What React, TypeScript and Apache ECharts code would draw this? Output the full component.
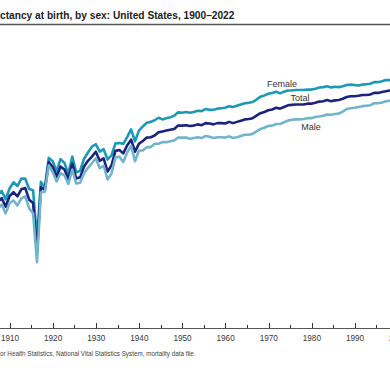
import React, { useEffect, useRef } from "react";
import * as echarts from "echarts";

const years: number[] = [];
for (let y = 1900; y <= 2010; y++) years.push(y);

const total = [
  47.3, 49.1, 51.5, 50.5, 47.6, 48.7, 48.7, 47.6, 51.1, 52.1,
  50.0, 52.6, 53.5, 52.5, 54.2, 54.5, 51.7, 50.9, 39.1, 54.7,
  54.1, 60.8, 59.6, 57.2, 59.7, 59.0, 56.7, 60.4, 56.8, 57.1,
  59.7, 61.1, 62.1, 63.3, 61.1, 61.7, 58.5, 60.0, 63.5, 63.7,
  62.9, 64.8, 66.2, 63.3, 65.2, 65.9, 66.7, 66.8, 67.2, 68.0,
  68.2, 68.4, 68.6, 68.8, 69.6, 69.6, 69.7, 69.5, 69.6, 69.9,
  69.7, 70.2, 70.1, 69.9, 70.2, 70.2, 70.1, 70.5, 70.2, 70.5,
  70.8, 71.1, 71.2, 71.4, 72.0, 72.6, 72.9, 73.3, 73.5, 73.9,
  73.7, 74.1, 74.5, 74.6, 74.7, 74.7, 74.7, 74.9, 74.9, 75.1,
  75.4, 75.5, 75.8, 75.5, 75.7, 75.8, 76.1, 76.5, 76.7, 76.7,
  76.8, 77.0, 77.0, 77.1, 77.5, 77.5, 77.7, 77.9, 78.1, 78.5, 78.7,
];

const female = [
  48.3, 50.6, 53.4, 52.0, 49.1, 50.2, 50.8, 49.9, 52.8, 53.8,
  51.8, 54.4, 55.9, 55.0, 56.8, 56.8, 54.3, 54.0, 42.2, 56.0,
  54.6, 61.8, 61.0, 58.5, 61.5, 60.6, 58.0, 62.1, 58.3, 58.7,
  61.6, 63.1, 64.5, 65.1, 63.3, 63.9, 61.4, 62.4, 65.3, 65.4,
  65.2, 66.8, 68.7, 65.8, 68.4, 69.4, 70.3, 70.5, 70.9, 71.5,
  71.1, 71.4, 71.6, 72.0, 72.8, 72.7, 72.9, 72.7, 72.9, 73.2,
  73.1, 73.6, 73.4, 73.4, 73.7, 73.8, 73.9, 74.3, 74.1, 74.4,
  74.7, 75.0, 75.1, 75.3, 75.9, 76.6, 76.9, 77.3, 77.5, 77.8,
  77.4, 77.8, 78.1, 78.1, 78.2, 78.2, 78.2, 78.3, 78.3, 78.5,
  78.8, 78.9, 79.1, 78.8, 79.0, 78.9, 79.1, 79.4, 79.5, 79.4,
  79.3, 79.5, 79.6, 79.7, 80.1, 80.1, 80.3, 80.6, 80.6, 80.9, 81.0,
];

const male = [
  46.3, 47.6, 49.8, 49.1, 46.2, 47.3, 46.9, 45.6, 49.5, 50.5,
  48.4, 50.9, 51.5, 50.3, 52.0, 52.5, 49.6, 48.4, 36.6, 53.5,
  53.6, 60.0, 58.4, 56.1, 58.1, 57.6, 55.5, 59.0, 55.6, 55.8,
  58.1, 59.4, 60.5, 61.7, 59.3, 59.9, 56.6, 58.0, 61.9, 62.1,
  60.8, 63.1, 64.7, 61.0, 63.6, 63.6, 64.4, 64.4, 65.2, 65.2,
  65.6, 65.6, 65.8, 66.0, 66.7, 66.7, 66.7, 66.4, 66.6, 66.8,
  66.6, 67.1, 66.9, 66.6, 66.8, 66.8, 66.7, 67.0, 66.6, 66.8,
  67.1, 67.4, 67.4, 67.6, 68.2, 68.8, 69.1, 69.5, 69.6, 70.0,
  70.0, 70.4, 70.8, 71.0, 71.1, 71.1, 71.2, 71.4, 71.4, 71.7,
  71.8, 72.0, 72.3, 72.2, 72.4, 72.5, 73.0, 73.6, 73.8, 73.9,
  74.1, 74.3, 74.4, 74.5, 75.0, 75.0, 75.2, 75.5, 75.6, 76.0, 76.2,
];

const seriesNames = ["Female", "Total", "Male"];
const titleText = "ctancy at birth, by sex: United States, 1900\u20132022";
const footerText = "or Health Statistics, National Vital Statistics System, mortality data file.";

const colors: Record<string, string> = { Female: "#1c9ab2", Total: "#1b237c", Male: "#72b4c9" };

export default function App() {
  const ref = useRef<HTMLDivElement>(null);
  useEffect(() => {
    if (!ref.current) return;
    const chart = echarts.init(ref.current, undefined, { renderer: "svg" });
    const pair = (arr: number[]) => years.map((y, i) => [y, arr[i]]);
    const dataMap: Record<string, number[]> = { Female: female, Total: total, Male: male };
    chart.setOption({
      animation: false,
      backgroundColor: "#ffffff",
      grid: {
        left: -33.125,
        right: -8.125,
        top: 30,
        bottom: 62,
        containLabel: false,
        outerBoundsMode: "none",
      },
      xAxis: [
        {
          type: "value",
          min: 1900,
          max: 2000,
          interval: 10,
          position: "bottom",
          axisLine: { show: true, lineStyle: { color: "#555", width: 1.2 } },
          axisTick: { show: true, inside: true, length: 5, lineStyle: { color: "#333", width: 1 } },
          minorTick: { show: true, splitNumber: 2, length: 3, lineStyle: { color: "#333", width: 1 } },
          splitLine: { show: false },
          axisLabel: {
            showMinLabel: false,
            fontSize: 8.2,
            color: "#3a3a3a",
            margin: 6,
            fontFamily: "Liberation Sans",
            formatter: (v: number) => String(v),
          },
        },
        {
          type: "value",
          min: 1900.11,
          max: 2010.12,
          show: false,
          position: "top",
          splitLine: { show: false },
        },
      ],
      yAxis: { type: "value", min: 20.7, max: 92.7, show: false, splitLine: { show: false } },
      series: seriesNames.map((n) => ({
        name: n,
        type: "line",
        xAxisIndex: 1,
        data: pair(dataMap[n]),
        showSymbol: false,
        clip: true,
        lineStyle: { color: colors[n], width: 2.6, join: "round" },
        itemStyle: { color: colors[n] },
      })),
      graphic: [
        {
          type: "text",
          x: 0,
          y: 15,
          scaleX: 0.885,
          style: {
            text: titleText,
            fontFamily: "Liberation Sans",
            fontWeight: "bold",
            fontSize: 11.5,
            fill: "#222",
            align: "left",
            verticalAlign: "middle",
          },
        },
        {
          type: "line",
          shape: { x1: 0, y1: 24.5, x2: 390, y2: 24.5 },
          style: { stroke: "#555", lineWidth: 1.5 },
        },
        {
          type: "text",
          x: 282,
          y: 84,
          style: { text: "Female", fontFamily: "Liberation Sans", fontSize: 9, fill: "#333", align: "center", verticalAlign: "middle" },
        },
        {
          type: "text",
          x: 300,
          y: 98,
          style: { text: "Total", fontFamily: "Liberation Sans", fontSize: 9, fill: "#333", align: "center", verticalAlign: "middle" },
        },
        {
          type: "text",
          x: 311,
          y: 127,
          style: { text: "Male", fontFamily: "Liberation Sans", fontSize: 9, fill: "#333", align: "center", verticalAlign: "middle" },
        },
        {
          type: "text",
          x: 0,
          y: 353,
          style: { text: footerText, fontFamily: "Liberation Sans", fontSize: 6.3, fill: "#444", align: "left", verticalAlign: "middle" },
        },
      ],
    });
    return () => chart.dispose();
  }, []);
  return (
    <div
      ref={ref}
      style={{ position: "fixed", left: 0, top: 0, width: 390, height: 390, background: "#fff" }}
    />
  );
}
